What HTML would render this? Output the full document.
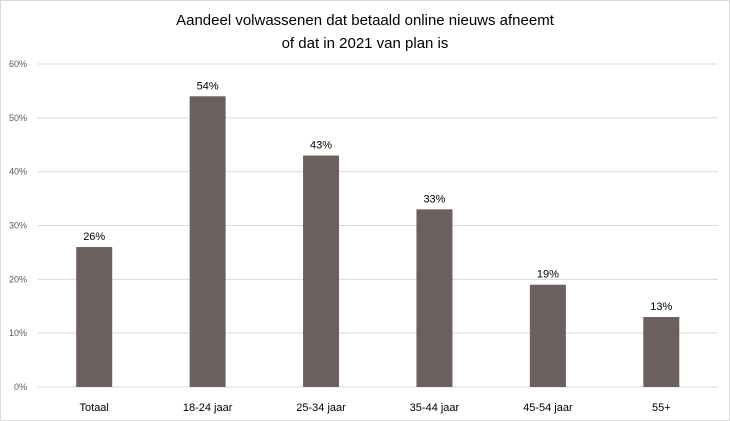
<!DOCTYPE html>
<html><head><meta charset="utf-8"><style>
body{margin:0;background:#fff;}
svg{display:block;font-family:"Liberation Sans",sans-serif;}
</style></head><body>
<svg id="chart" width="730" height="421">
<rect x="0.5" y="0.5" width="729" height="420" fill="#fff" stroke="#d9d9d9"/>
<text x="365" y="25" text-anchor="middle" font-size="15" fill="#000">Aandeel volwassenen dat betaald online nieuws afneemt</text>
<text x="365" y="48" text-anchor="middle" font-size="15" fill="#000">of dat in 2021 van plan is</text>
<g id="grid"></g><g id="bars"></g><g id="labels"></g>
</svg>
<script>
const categories=["Totaal","18-24 jaar","25-34 jaar","35-44 jaar","45-54 jaar","55+"];
const values=[26,54,43,33,19,13];
const ticks=[0,10,20,30,40,50,60];
const tickLabels=["0%","10%","20%","30%","40%","50%","60%"];
const NS="http://www.w3.org/2000/svg";
const x0=37.5,x1=718,y0=387,y1=64,maxV=60;
const bw=(x1-x0)/categories.length;
const y=v=>y0-(v/maxV)*(y0-y1);
const xc=i=>x0+bw*(i+0.5);
function mk(t,a,p){const e=document.createElementNS(NS,t);for(const k in a)e.setAttribute(k,a[k]);p.appendChild(e);return e;}
const grid=document.getElementById('grid'),bars=document.getElementById('bars'),labels=document.getElementById('labels');
ticks.forEach((t,i)=>{
 const l=mk('line',{x1:x0,x2:x1,y1:y(t),y2:y(t),stroke:'#d9d9d9','stroke-width':1},grid);
 
 
 const tx=mk('text',{x:27,y:y(t)+3,'text-anchor':'end','font-size':9,fill:'#595959'},grid);
 tx.textContent=tickLabels[i];
 
 
});
values.forEach((v,i)=>{
 const r=mk('rect',{x:xc(i)-18,y:y(v),width:36,height:y0-y(v),fill:'#6c605e'},bars);
 
 
 const vl=mk('text',{x:xc(i),y:y(v)-7,'text-anchor':'middle','font-size':11,fill:'#000'},labels);
 vl.textContent=v+'%';
 
 
 const cl=mk('text',{x:xc(i),y:411,'text-anchor':'middle','font-size':11,fill:'#000'},labels);
 cl.textContent=categories[i];
 
 
});
</script>
</body></html>
